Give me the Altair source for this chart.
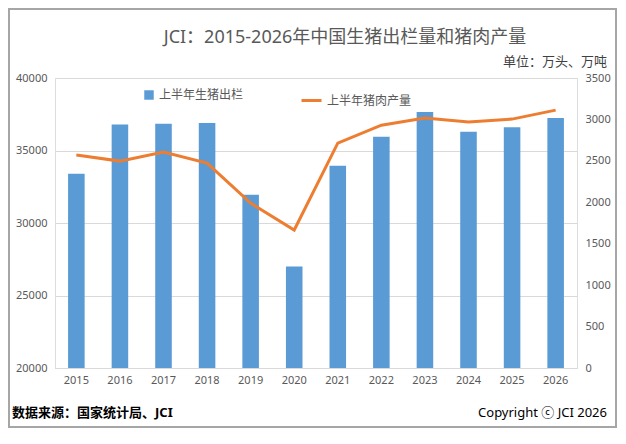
import altair as alt
import pandas as pd

years = ["2015", "2016", "2017", "2018", "2019", "2020", "2021", "2022", "2023", "2024", "2025", "2026"]
hogs_out = [33400, 36800, 36850, 36900, 31950, 27000, 33950, 35950, 37650, 36300, 36600, 37250]
pork_output = [2570, 2497, 2606, 2473, 1990, 1665, 2714, 2931, 3016, 2968, 3004, 3112]

df = pd.DataFrame({"year": years, "hogs": hogs_out, "pork": pork_output})
one = pd.DataFrame({"k": [0]})
font = "Noto Sans, Noto Sans CJK SC"

x = alt.X("year:N", title=None, axis=alt.Axis(labelAngle=0, ticks=False, domainColor="#d9d9d9",
                                               labelColor="#595959", labelFontSize=11, labelPadding=6),
          scale=alt.Scale(paddingInner=0.62, paddingOuter=0.3))

bars = alt.Chart(df).mark_bar(color="#5B9BD5", clip=True).encode(
    x=x,
    y=alt.Y("hogs:Q", title=None, scale=alt.Scale(domain=[20000, 40000]),
            axis=alt.Axis(values=list(range(20000, 40001, 5000)), format="d", domain=False, ticks=False,
                          gridColor="#d9d9d9", labelColor="#595959", labelFontSize=11, labelPadding=8)),
    color=alt.Color("s:N", scale=alt.Scale(range=["#5B9BD5"]),
                    legend=alt.Legend(title=None, orient="none", legendX=88, legendY=11, symbolType="square",
                                      symbolSize=90, labelFontSize=12, labelColor="#595959", labelFont=font)),
).transform_calculate(s="'上半年生猪出栏'")

line = alt.Chart(df).mark_line(color="#ED7D31", strokeWidth=3).encode(
    x=x,
    y=alt.Y("pork:Q", title=None, scale=alt.Scale(domain=[0, 3500]),
            axis=alt.Axis(orient="right", values=list(range(0, 3501, 500)), format="d", domain=False,
                          ticks=False, grid=False, labelColor="#595959", labelFontSize=11, labelPadding=8)),
    stroke=alt.Stroke("s:N", scale=alt.Scale(range=["#ED7D31"]),
                      legend=alt.Legend(title=None, orient="none", legendX=245, legendY=11, symbolType="stroke",
                                        symbolStrokeWidth=3, symbolSize=400, labelFontSize=12,
                                        labelColor="#595959", labelFont=font)),
).transform_calculate(s="'上半年猪肉产量'")

title = alt.Chart(one).mark_text(text="JCI：2015-2026年中国生猪出栏量和猪肉产量", fontSize=18, color="#595959",
                                font=font).encode(x=alt.value(290), y=alt.value(-40))
unit = alt.Chart(one).mark_text(text="单位：万头、万吨", align="right", fontSize=13, color="#404040",
                               font=font).encode(x=alt.value(552), y=alt.value(-16))
source = alt.Chart(one).mark_text(text="数据来源：国家统计局、JCI", align="left", fontSize=13, color="#000000",
                                 font=font, fontWeight="bold").encode(x=alt.value(-43), y=alt.value(335))
copy = alt.Chart(one).mark_text(text="Copyright ⓒ JCI  2026", align="right", fontSize=13, color="#000000",
                               font=font).encode(x=alt.value(552), y=alt.value(335))
frame = alt.Chart(one).mark_rect(fill=None, stroke="#a6a6a6", strokeWidth=2).encode(
    x=alt.value(-46), x2=alt.value(561), y=alt.value(-69), y2=alt.value(349))

chart = alt.layer(bars, line, title, unit, source, copy, frame).resolve_scale(y="independent").properties(
    width=522, height=290,
    autosize=alt.AutoSizeParams(type="none"),
    padding={"left": 47, "top": 70, "right": 40, "bottom": 60},
).configure_view(stroke=None).configure(font=font)

chart.save("out.html", embed_options={"renderer": "svg", "actions": False})
